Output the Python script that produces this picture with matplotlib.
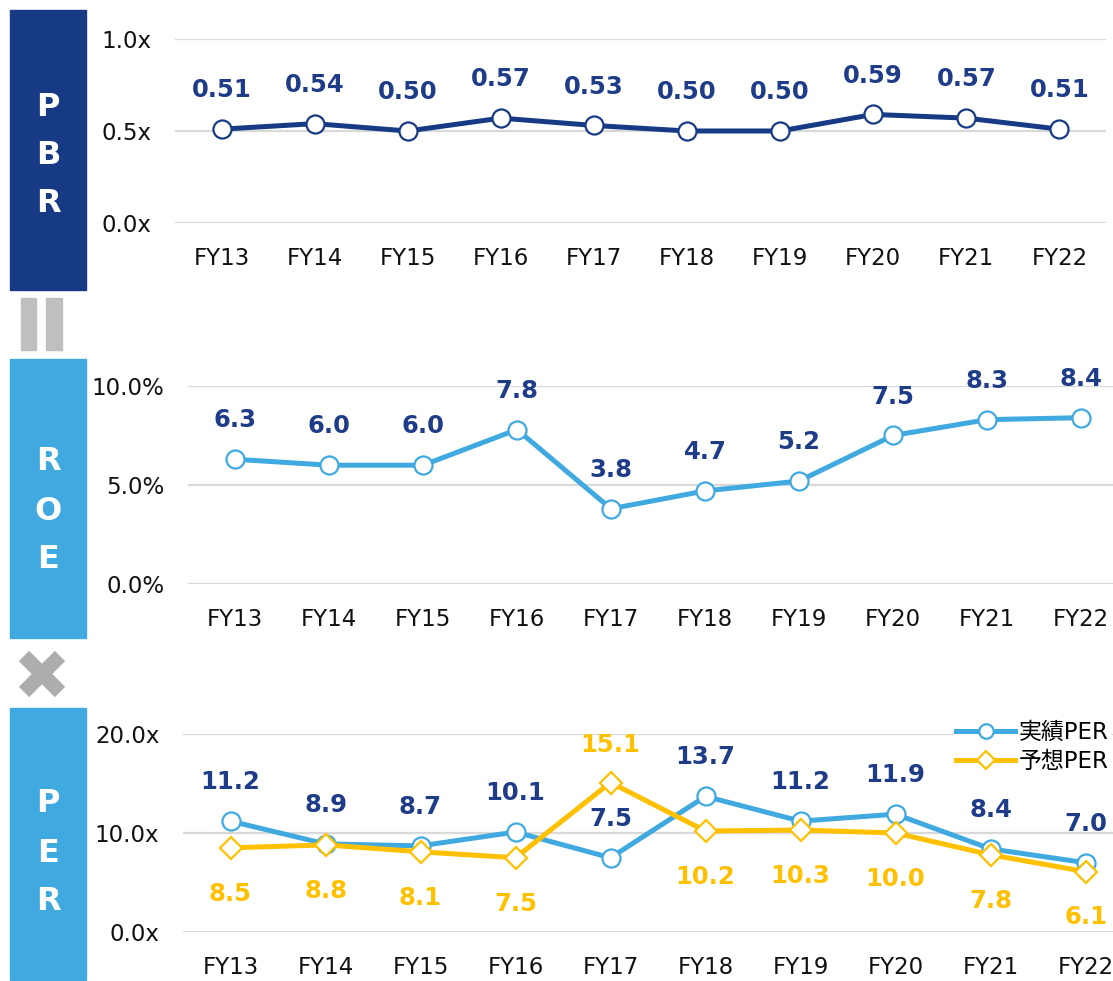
import matplotlib.pyplot as plt
from matplotlib.patches import Rectangle

plt.rcParams['font.family'] = ['DejaVu Sans', 'Noto Sans CJK JP']

years = ['FY13', 'FY14', 'FY15', 'FY16', 'FY17', 'FY18', 'FY19', 'FY20', 'FY21', 'FY22']
pbr = [0.51, 0.54, 0.50, 0.57, 0.53, 0.50, 0.50, 0.59, 0.57, 0.51]
roe = [6.3, 6.0, 6.0, 7.8, 3.8, 4.7, 5.2, 7.5, 8.3, 8.4]
per_actual = [11.2, 8.9, 8.7, 10.1, 7.5, 13.7, 11.2, 11.9, 8.4, 7.0]
per_forecast = [8.5, 8.8, 8.1, 7.5, 15.1, 10.2, 10.3, 10.0, 7.8, 6.1]

NAVY = '#173A84'
LABEL = '#1F3C88'
BLUE = '#3FA9E0'
ORANGE = '#FFC000'
GRID = '#D9D9D9'

W, H = 1113, 981
fig = plt.figure(figsize=(W / 100, H / 100), dpi=100)


def px_axes(x0, y0, x1, y1):
    # pixel box (top-left origin) -> figure axes
    return fig.add_axes([x0 / W, 1 - y1 / H, (x1 - x0) / W, (y1 - y0) / H])


def style(ax, ticks, fmt, ylim):
    ax.set_xlim(-0.5, 9.5)
    ax.set_ylim(*ylim)
    ax.set_yticks(ticks)
    ax.set_yticklabels([fmt.format(t) for t in ticks])
    ax.set_xticks(range(len(years)))
    ax.set_xticklabels(years)
    for s in ax.spines.values():
        s.set_visible(False)
    ax.grid(axis='y', color=GRID, lw=1.6)
    ax.set_axisbelow(True)
    ax.tick_params(axis='both', length=0, labelsize=16.5, colors='#111111')
    ax.tick_params(axis='x', pad=17)
    ax.tick_params(axis='y', pad=17)


def labels(ax, vals, color, dy, fmt):
    for i, v in enumerate(vals):
        ax.annotate(fmt.format(v), (i, v),
                    xytext=(0, dy), textcoords='offset points',
                    ha='center', va='center', fontsize=17.5,
                    fontweight='bold', color=color)


# side boxes
box = fig.add_axes([0, 0, 1, 1])
box.set_xlim(0, W)
box.set_ylim(H, 0)
box.axis('off')
for (y0, y1, c, txt, ys) in [(10, 290, NAVY, 'PBR', [108, 156, 204]),
                             (359, 638, BLUE, 'ROE', [462, 512, 560]),
                             (708, 980, BLUE, 'PER', [803, 853, 901])]:
    box.add_patch(Rectangle((10, y0), 76, y1 - y0, color=c))
    for ch, yy in zip(txt, ys):
        box.text(48, yy, ch, color='white', fontsize=23, fontweight='bold',
                 ha='center', va='center')
# equals sign (vertical bars)
box.add_patch(Rectangle((21, 298), 15, 52, color='#BFBFBF'))
box.add_patch(Rectangle((46, 298), 16, 52, color='#BFBFBF'))
# multiplication sign
box.plot([24, 60], [656, 692], color='#ADADAD', lw=10.5, solid_capstyle='butt')
box.plot([24, 60], [692, 656], color='#ADADAD', lw=10.5, solid_capstyle='butt')

# PBR
ax1 = px_axes(175, 39, 1106, 223)
style(ax1, [0, 0.5, 1.0], '{:.1f}x', (0, 1.0))
ax1.plot(range(10), pbr, color=NAVY, lw=3.6, marker='o', ms=13,
         mfc='white', mec=NAVY, mew=1.6, clip_on=False)
labels(ax1, pbr, LABEL, 28, '{:.2f}')

# ROE
ax2 = px_axes(188, 386, 1128, 584)
style(ax2, [0, 5, 10], '{:.1f}%', (0, 10))
ax2.plot(range(10), roe, color=BLUE, lw=3.6, marker='o', ms=13,
         mfc='white', mec=BLUE, mew=1.6, clip_on=False)
labels(ax2, roe, LABEL, 28, '{:.1f}')

# PER
ax3 = px_axes(183, 734, 1133, 932)
style(ax3, [0, 10, 20], '{:.1f}x', (0, 20))
l1, = ax3.plot(range(10), per_actual, color=BLUE, lw=3.6, marker='o', ms=13,
               mfc='white', mec=BLUE, mew=1.6, clip_on=False, label='実績PER')
l2, = ax3.plot(range(10), per_forecast, color=ORANGE, lw=3.6, marker='D', ms=11,
               mfc='white', mec=ORANGE, mew=1.6, clip_on=False, label='予想PER')
labels(ax3, per_actual, LABEL, 28, '{:.1f}')
for i, v in enumerate(per_forecast):
    dy = 27 if v > per_actual[i] + 3 else -33
    ax3.annotate(f'{v:.1f}', (i, v), xytext=(0, dy), textcoords='offset points',
                 ha='center', va='center', fontsize=17.5, fontweight='bold', color=ORANGE)
fig.legend(handles=[l1, l2], loc='upper right', bbox_to_anchor=(1111 / W, 1 - 719 / H),
           frameon=True, facecolor='white', edgecolor='none', framealpha=1,
           fontsize=16.5, handlelength=2.6, handletextpad=0.15, borderpad=0.1,
           labelspacing=0.25, borderaxespad=0, markerscale=0.8)

fig.savefig('out.png', dpi=100)
